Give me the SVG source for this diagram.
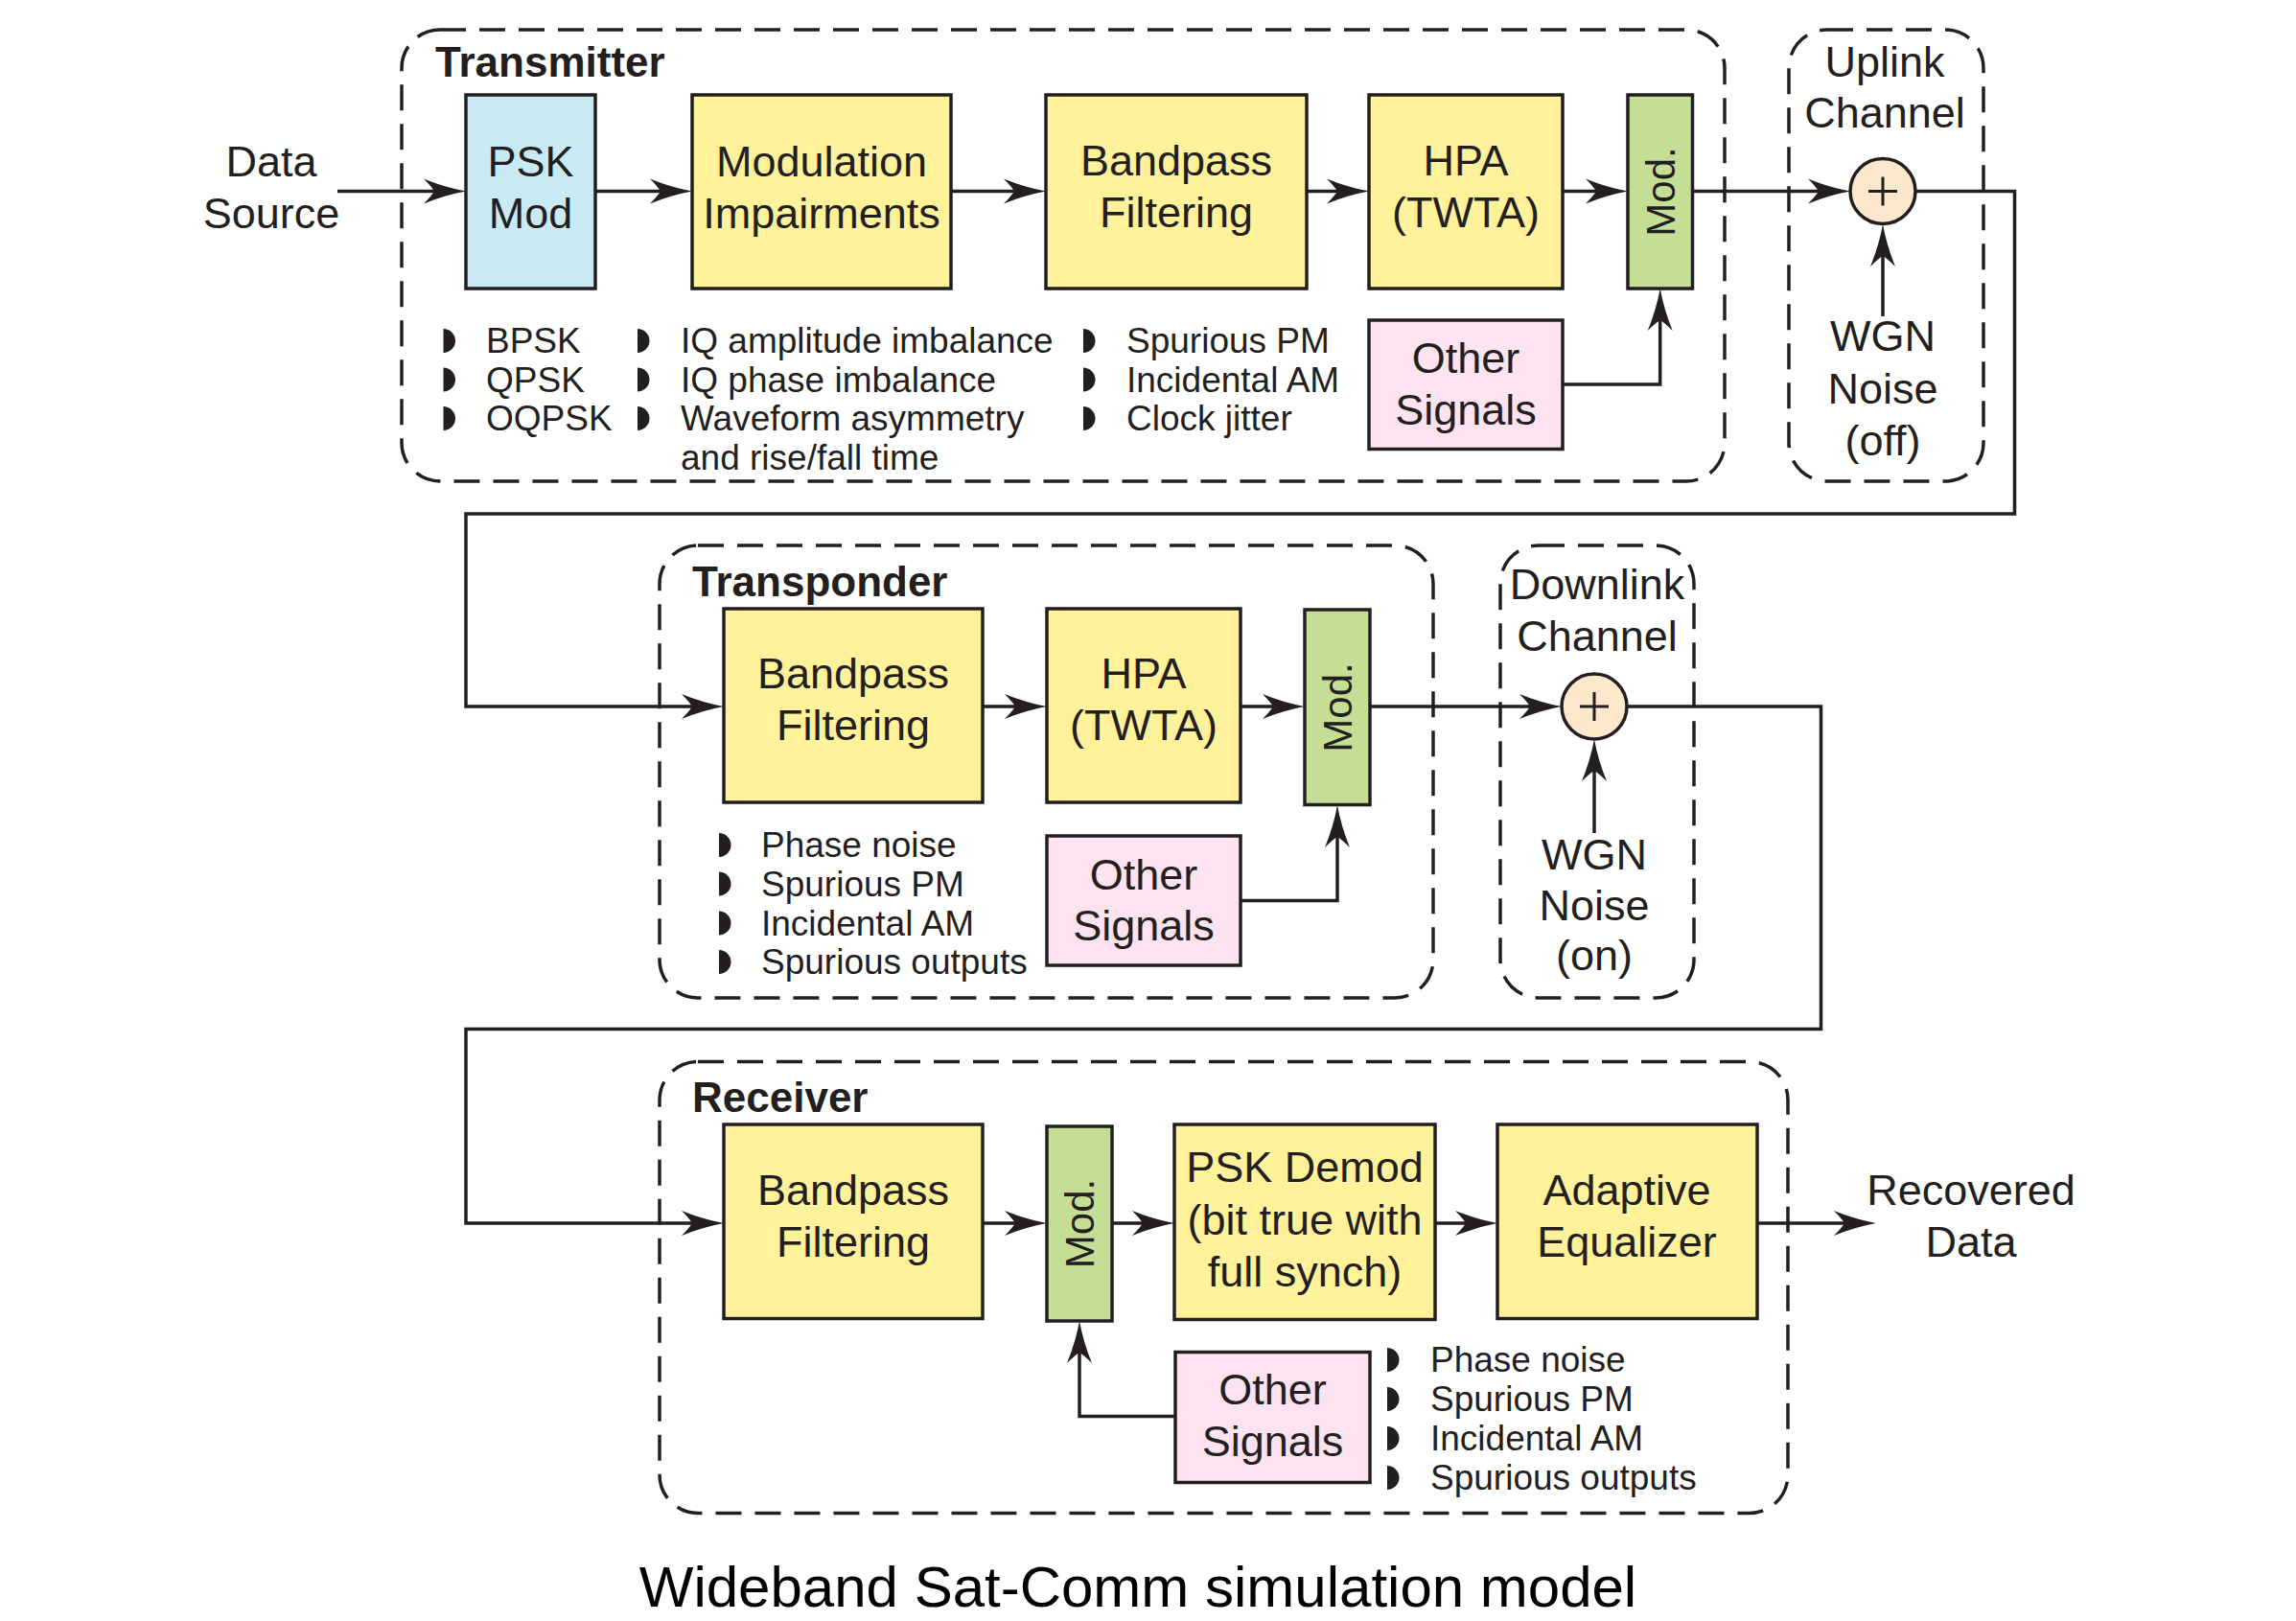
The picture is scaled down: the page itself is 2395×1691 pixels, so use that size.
<svg xmlns="http://www.w3.org/2000/svg" width="2395" height="1691" viewBox="0 0 2395 1691">
<defs>
<style>
.box{stroke:#231f20;stroke-width:3.5}
.y{fill:#fff29a}
.b{fill:#c8eaf5}
.g{fill:#c5de95}
.p{fill:#fde3ef}
.dash{fill:none;stroke:#231f20;stroke-width:3.5;stroke-dasharray:27 14}
.t{font-family:"Liberation Sans",Arial,sans-serif;font-size:45px;fill:#231f20;text-anchor:middle}
.ttl{font-family:"Liberation Sans",Arial,sans-serif;font-size:44px;font-weight:bold;fill:#231f20}
.bl{font-family:"Liberation Sans",Arial,sans-serif;font-size:37px;fill:#231f20}
.mod{font-family:"Liberation Sans",Arial,sans-serif;font-size:42px;fill:#231f20;text-anchor:middle}
.cap{font-family:"Liberation Sans",Arial,sans-serif;font-size:60px;fill:#000;text-anchor:middle}
.ln{fill:none;stroke:#231f20;stroke-width:3.5}
.sum{fill:#fee8cb;stroke:#231f20;stroke-width:3.5}
</style>
<path id="bul" d="M0,-25 A12.5,12.5 0 0 1 0,0 Z" fill="#231f20"/>
<marker id="ah" viewBox="-46 -15 48 30" refX="-10" refY="0" markerWidth="48" markerHeight="30" markerUnits="userSpaceOnUse" orient="auto">
<path d="M0,0 Q-22,-4 -44,-13 Q-36,-5 -33,0 Q-36,5 -44,13 Q-22,4 0,0 Z" fill="#231f20"/>
</marker>
</defs>
<rect width="2395" height="1691" fill="#fff"/>

<g id="transmitter">
<rect class="dash" x="419" y="31" width="1380" height="471" rx="40"/>
<text class="ttl" x="454" y="80">Transmitter</text>
</g>
<g id="uplink">
<rect class="dash" x="1866" y="31" width="203" height="471" rx="40"/>
<text class="t" x="1966" y="80">Uplink</text>
<text class="t" x="1966" y="133">Channel</text>
</g>
<g id="transponder">
<rect class="dash" x="688" y="569" width="807" height="472" rx="40"/>
<text class="ttl" x="722" y="622">Transponder</text>
</g>
<g id="downlink">
<rect class="dash" x="1565" y="569" width="202" height="472" rx="40"/>
<text class="t" x="1666" y="625">Downlink</text>
<text class="t" x="1666" y="679">Channel</text>
</g>
<g id="receiver">
<rect class="dash" x="688" y="1107.5" width="1177" height="471" rx="40"/>
<text class="ttl" x="722" y="1160">Receiver</text>
</g>

<g id="connectors">
<path class="ln" d="M352,199.5 H476" marker-end="url(#ah)"/>
<path class="ln" d="M621,199.5 H712" marker-end="url(#ah)"/>
<path class="ln" d="M992,199.5 H1081" marker-end="url(#ah)"/>
<path class="ln" d="M1363,199.5 H1418" marker-end="url(#ah)"/>
<path class="ln" d="M1630,199.5 H1688" marker-end="url(#ah)"/>
<path class="ln" d="M1765.5,199.5 H1920" marker-end="url(#ah)"/>
<path class="ln" d="M1630,401 H1731.7 V311" marker-end="url(#ah)"/>
<path class="ln" d="M1964,330 V244" marker-end="url(#ah)"/>
<path class="ln" d="M1998,199.5 H2101.5 V536 H486 V737 H745" marker-end="url(#ah)"/>
<path class="ln" d="M1025,737 H1082" marker-end="url(#ah)"/>
<path class="ln" d="M1294,737 H1351" marker-end="url(#ah)"/>
<path class="ln" d="M1429,737 H1619" marker-end="url(#ah)"/>
<path class="ln" d="M1294,939.5 H1395 V850" marker-end="url(#ah)"/>
<path class="ln" d="M1663,869 V781" marker-end="url(#ah)"/>
<path class="ln" d="M1697,737 H1899.5 V1073.5 H486 V1276 H745" marker-end="url(#ah)"/>
<path class="ln" d="M1025,1276 H1082" marker-end="url(#ah)"/>
<path class="ln" d="M1160,1276 H1215" marker-end="url(#ah)"/>
<path class="ln" d="M1497,1276 H1552" marker-end="url(#ah)"/>
<path class="ln" d="M1833,1276 H1947" marker-end="url(#ah)"/>
<path class="ln" d="M1226,1477.5 H1126 V1388" marker-end="url(#ah)"/>
</g>

<g id="data-source">
<text class="t" x="283" y="184">Data</text>
<text class="t" x="283" y="237.5">Source</text>
</g>
<g id="psk-mod">
<rect class="box b" x="486" y="99" width="135" height="202"/>
<text class="t" x="553.5" y="184">PSK</text>
<text class="t" x="553.5" y="237.5">Mod</text>
</g>
<g id="mod-impairments">
<rect class="box y" x="722" y="99" width="270" height="202"/>
<text class="t" x="857" y="184">Modulation</text>
<text class="t" x="857" y="237.5">Impairments</text>
</g>
<g id="tx-bandpass">
<rect class="box y" x="1091" y="99" width="272" height="202"/>
<text class="t" x="1227" y="183">Bandpass</text>
<text class="t" x="1227" y="236.5">Filtering</text>
</g>
<g id="tx-hpa">
<rect class="box y" x="1428" y="99" width="202" height="202"/>
<text class="t" x="1529" y="183">HPA</text>
<text class="t" x="1529" y="236.5">(TWTA)</text>
</g>
<g id="tx-mod">
<rect class="box g" x="1698" y="99" width="67.5" height="202"/>
<text class="mod" transform="translate(1746.5,200) rotate(-90)">Mod.</text>
</g>
<g id="tx-other">
<rect class="box p" x="1428" y="334" width="202" height="134.5"/>
<text class="t" x="1529" y="389">Other</text>
<text class="t" x="1529" y="443">Signals</text>
</g>
<g id="uplink-sum">
<circle class="sum" cx="1964" cy="199.5" r="34"/>
<path class="ln" d="M1949,199.5 H1979 M1964,184.5 V214.5" style="stroke-width:3"/>
<text class="t" x="1964" y="366">WGN</text>
<text class="t" x="1964" y="420.5">Noise</text>
<text class="t" x="1964" y="475">(off)</text>
</g>
<g id="tx-bullets">
<use href="#bul" x="462.5" y="368"/><text class="bl" x="507" y="368">BPSK</text>
<use href="#bul" x="462.5" y="408.5"/><text class="bl" x="507" y="408.5">QPSK</text>
<use href="#bul" x="462.5" y="449"/><text class="bl" x="507" y="449">OQPSK</text>
<use href="#bul" x="665" y="368"/><text class="bl" x="710" y="368">IQ amplitude imbalance</text>
<use href="#bul" x="665" y="408.5"/><text class="bl" x="710" y="408.5">IQ phase imbalance</text>
<use href="#bul" x="665" y="449"/><text class="bl" x="710" y="449">Waveform asymmetry</text>
<text class="bl" x="710" y="489.5">and rise/fall time</text>
<use href="#bul" x="1130" y="368"/><text class="bl" x="1175" y="368">Spurious PM</text>
<use href="#bul" x="1130" y="408.5"/><text class="bl" x="1175" y="408.5">Incidental AM</text>
<use href="#bul" x="1130" y="449"/><text class="bl" x="1175" y="449">Clock jitter</text>
</g>

<g id="tp-bandpass">
<rect class="box y" x="755" y="635" width="270" height="202"/>
<text class="t" x="890" y="717.5">Bandpass</text>
<text class="t" x="890" y="772">Filtering</text>
</g>
<g id="tp-hpa">
<rect class="box y" x="1092" y="635" width="202" height="202"/>
<text class="t" x="1193" y="718">HPA</text>
<text class="t" x="1193" y="772">(TWTA)</text>
</g>
<g id="tp-mod">
<rect class="box g" x="1361" y="636" width="68" height="203.5"/>
<text class="mod" transform="translate(1410,738) rotate(-90)">Mod.</text>
</g>
<g id="tp-other">
<rect class="box p" x="1092" y="872" width="202" height="135"/>
<text class="t" x="1193" y="927.5">Other</text>
<text class="t" x="1193" y="981">Signals</text>
</g>
<g id="downlink-sum">
<circle class="sum" cx="1663" cy="737" r="34"/>
<path class="ln" d="M1648,737 H1678 M1663,722 V752" style="stroke-width:3"/>
<text class="t" x="1663" y="907">WGN</text>
<text class="t" x="1663" y="959.5">Noise</text>
<text class="t" x="1663" y="1012">(on)</text>
</g>
<g id="tp-bullets">
<use href="#bul" x="750" y="894"/><text class="bl" x="794" y="894">Phase noise</text>
<use href="#bul" x="750" y="934.5"/><text class="bl" x="794" y="934.5">Spurious PM</text>
<use href="#bul" x="750" y="975.5"/><text class="bl" x="794" y="975.5">Incidental AM</text>
<use href="#bul" x="750" y="1016"/><text class="bl" x="794" y="1016">Spurious outputs</text>
</g>

<g id="rx-bandpass">
<rect class="box y" x="755" y="1173" width="270" height="202.5"/>
<text class="t" x="890" y="1257">Bandpass</text>
<text class="t" x="890" y="1311">Filtering</text>
</g>
<g id="rx-mod">
<rect class="box g" x="1092" y="1175" width="68" height="203"/>
<text class="mod" transform="translate(1141,1276.5) rotate(-90)">Mod.</text>
</g>
<g id="rx-demod">
<rect class="box y" x="1225" y="1173" width="272" height="203.5"/>
<text class="t" x="1361" y="1233">PSK Demod</text>
<text class="t" x="1361" y="1288">(bit true with</text>
<text class="t" x="1361" y="1342">full synch)</text>
</g>
<g id="rx-equalizer">
<rect class="box y" x="1562" y="1173" width="271" height="202.5"/>
<text class="t" x="1697" y="1257">Adaptive</text>
<text class="t" x="1697" y="1311">Equalizer</text>
</g>
<g id="rx-other">
<rect class="box p" x="1226" y="1410.5" width="203" height="136"/>
<text class="t" x="1327.5" y="1465">Other</text>
<text class="t" x="1327.5" y="1519">Signals</text>
</g>
<g id="recovered-data">
<text class="t" x="2056" y="1257">Recovered</text>
<text class="t" x="2056" y="1310.5">Data</text>
</g>
<g id="rx-bullets">
<use href="#bul" x="1447" y="1431"/><text class="bl" x="1492" y="1431">Phase noise</text>
<use href="#bul" x="1447" y="1472"/><text class="bl" x="1492" y="1472">Spurious PM</text>
<use href="#bul" x="1447" y="1513"/><text class="bl" x="1492" y="1513">Incidental AM</text>
<use href="#bul" x="1447" y="1554"/><text class="bl" x="1492" y="1554">Spurious outputs</text>
</g>

<text class="cap" x="1187" y="1676">Wideband Sat-Comm simulation model</text>
</svg>
